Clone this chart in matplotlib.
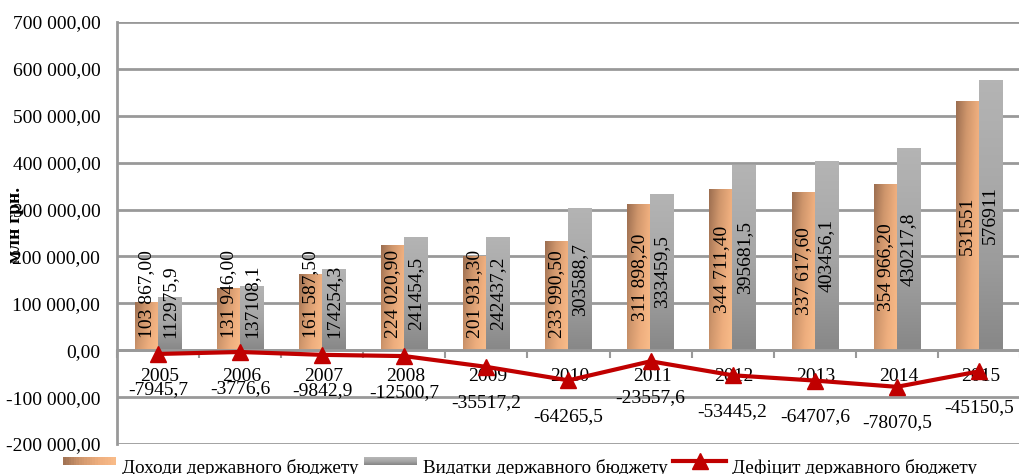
import matplotlib
matplotlib.use("Agg")
import matplotlib.pyplot as plt
import numpy as np
from matplotlib.patches import Patch, Rectangle
from matplotlib.lines import Line2D
from matplotlib.colors import LinearSegmentedColormap
from matplotlib.legend_handler import HandlerBase

years = ["2005", "2006", "2007", "2008", "2009", "2010", "2011", "2012", "2013", "2014", "2015"]
revenues = [103867.00, 131946.00, 161587.50, 224020.90, 201931.30, 233990.50,
            311898.20, 344711.40, 337617.60, 354966.20, 531551]
revenue_labels = ["103 867,00", "131 946,00", "161 587,50", "224 020,90", "201 931,30", "233 990,50",
                  "311 898,20", "344 711,40", "337 617,60", "354 966,20", "531551"]
expenditures = [112975.9, 137108.1, 174254.3, 241454.5, 242437.2, 303588.7,
                333459.5, 395681.5, 403456.1, 430217.8, 576911]
expenditure_labels = ["112975,9", "137108,1", "174254,3", "241454,5", "242437,2", "303588,7",
                      "333459,5", "395681,5", "403456,1", "430217,8", "576911"]
deficit = [-7945.7, -3776.6, -9842.9, -12500.7, -35517.2, -64265.5,
           -23557.6, -53445.2, -64707.6, -78070.5, -45150.5]
deficit_labels = ["-7945,7", "-3776,6", "-9842,9", "-12500,7", "-35517,2", "-64265,5",
                  "-23557,6", "-53445,2", "-64707,6", "-78070,5", "-45150,5"]
yticks = [-200000, -100000, 0, 100000, 200000, 300000, 400000, 500000, 600000, 700000]
ytick_labels = ["-200 000,00", "-100 000,00", "0,00", "100 000,00", "200 000,00", "300 000,00",
                "400 000,00", "500 000,00", "600 000,00", "700 000,00"]

plt.rcParams['font.family'] = ['Liberation Serif', 'DejaVu Serif']
FS = 14
RED = "#c00000"

fig = plt.figure(figsize=(10.2, 4.74), dpi=100)
ax = fig.add_axes([117/1020, 1-444/474, 1-117/1020, (444-22)/474])

x = np.arange(len(years))
w = 0.285
off = 0.14
orange_cmap = LinearSegmentedColormap.from_list("o", ["#9c6e50", "#cf966c", "#eeae7e", "#fabd8a"])
gray_cmap = LinearSegmentedColormap.from_list("g", ["#b4b4b4", "#a6a6a6", "#888888"])

bars_r = ax.bar(x - off, revenues, w, color="#e9a877", zorder=2)
bars_e = ax.bar(x + off, expenditures, w, color="#a8a8a8", zorder=2)

uu, vv = np.meshgrid(np.linspace(0, 1, 48), np.linspace(0, 1, 96))
grad_diag = 0.7 * uu + 0.3 * vv          # row 0 = top (origin='upper')
grad_v = np.linspace(0, 1, 64).reshape(-1, 1)
for b in bars_r:
    x0, y0, bw, bh = b.get_x(), b.get_y(), b.get_width(), b.get_height()
    im = ax.imshow(grad_diag, cmap=orange_cmap, extent=[x0, x0 + bw, y0, y0 + bh],
                   aspect='auto', zorder=2.1, origin='upper', vmin=0, vmax=1)
    im.set_clip_path(b)
for b in bars_e:
    x0, y0, bw, bh = b.get_x(), b.get_y(), b.get_width(), b.get_height()
    im = ax.imshow(grad_v, cmap=gray_cmap, extent=[x0, x0 + bw, y0, y0 + bh],
                   aspect='auto', zorder=2.1, origin='upper', vmin=0, vmax=1)
    im.set_clip_path(b)

ax.plot(x, deficit, color=RED, lw=3, marker="^", markersize=11,
        markerfacecolor=RED, markeredgecolor=RED, zorder=4)

ax.set_xlim(-0.5, len(years) - 0.5)
ax.set_ylim(-200000, 700000)
ax.set_yticks(yticks)
ax.set_yticklabels(ytick_labels, fontsize=FS)
ax.tick_params(axis='y', length=0, pad=12)
ax.set_xticks(np.arange(len(years) + 1) - 0.5)
ax.set_xticklabels([])
ax.tick_params(axis='x', length=6, width=1.5, color="#999999", direction='out')
ax.grid(axis='y', color="#999999", lw=2, zorder=0)
ax.set_axisbelow(True)
for s in ["top", "right"]:
    ax.spines[s].set_visible(False)
ax.spines["bottom"].set_position(("data", 0))
ax.spines["bottom"].set_color("#999999")
ax.spines["bottom"].set_linewidth(2)
ax.spines["left"].set_color("#999999")
ax.spines["left"].set_linewidth(2)

for i, yr in enumerate(years):
    ax.annotate(yr, (x[i], 0), xytext=(1, -19), textcoords='offset points',
                ha='center', va='center', fontsize=FS, zorder=3)
for i, lab in enumerate(deficit_labels):
    ax.annotate(lab, (x[i], deficit[i]), xytext=(0, -26), textcoords='offset points',
                ha='center', va='center', fontsize=FS, zorder=5)

texts = []
for i in range(len(years)):
    t1 = ax.text(x[i] - off, revenues[i] / 2, revenue_labels[i], rotation=90,
                 ha='center', va='center', fontsize=FS, zorder=5)
    t2 = ax.text(x[i] + off, expenditures[i] / 2, expenditure_labels[i], rotation=90,
                 ha='center', va='center', fontsize=FS, zorder=5)
    texts += [t1, t2]

fig.canvas.draw()
r = fig.canvas.get_renderer()
inv = ax.transData.inverted()
min_bottom_px = ax.transData.transform((0, 0))[1] + 12
for t in texts:
    bb = t.get_window_extent(r)
    if bb.y0 < min_bottom_px:
        shift = min_bottom_px - bb.y0
        xd, yd = t.get_position()
        pc = ax.transData.transform((xd, yd))
        newy = inv.transform((pc[0], pc[1] + shift))[1]
        t.set_position((xd, newy))

fig.text(16/1020, 1-225/474, "млн грн.", rotation=90, ha='center', va='center',
         fontsize=FS, fontweight='bold')


class GradHandler(HandlerBase):
    def __init__(self, colors, orient, dy=4.0, ph=6.0):
        super().__init__()
        self.colors = colors
        self.orient = orient
        self.dy = dy
        self.ph = ph

    def create_artists(self, legend, orig_handle, xdescent, ydescent, width, height,
                       fontsize, trans):
        arts = []
        n = len(self.colors)
        yc = -ydescent + height / 2 + self.dy
        for k, c in enumerate(self.colors):
            if self.orient == 'h':
                rr = Rectangle((-xdescent + k * width / n, yc - self.ph / 2), width / n * 1.05,
                               self.ph, facecolor=c, edgecolor='none', transform=trans)
            else:
                rr = Rectangle((-xdescent, yc + self.ph / 2 - (k + 1) * self.ph / n), width,
                               self.ph / n * 1.05, facecolor=c, edgecolor='none', transform=trans)
            arts.append(rr)
        return arts


class LineHandler(HandlerBase):
    def __init__(self, dy=4.0):
        super().__init__()
        self.dy = dy

    def create_artists(self, legend, orig_handle, xdescent, ydescent, width, height,
                       fontsize, trans):
        yc = -ydescent + height / 2 + self.dy
        ln = Line2D([-xdescent, -xdescent + width], [yc, yc], color=RED, lw=3, transform=trans)
        mk = Line2D([-xdescent + width / 2], [yc], marker="^", markersize=11, color=RED,
                    linestyle='none', transform=trans)
        return [ln, mk]


ocols = [orange_cmap(v) for v in np.linspace(0.05, 0.95, 20)]
gcols = [gray_cmap(v) for v in np.linspace(0, 1, 8)]
h1, h2, h3 = Patch(), Patch(facecolor='gray'), Line2D([0], [0])
labels = ["Доходи державного бюджету", "Видатки державного бюджету", "Дефіцит державного бюджету"]
fig.legend([h1, h2, h3], labels, loc='center', bbox_to_anchor=(520/1020, 1-468/474), ncol=3,
           frameon=False, fontsize=13.8, handlelength=2.75, handletextpad=0.3,
           columnspacing=0.3, borderpad=0, borderaxespad=0,
           handler_map={h1: GradHandler(ocols, 'h'), h2: GradHandler(gcols, 'v'),
                        h3: LineHandler()})

fig.savefig("out.png", dpi=100)
